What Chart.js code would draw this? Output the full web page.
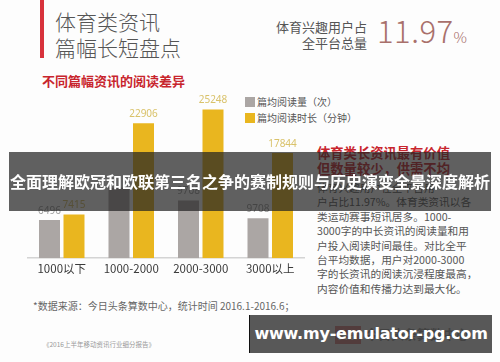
<!DOCTYPE html>
<html>
<head>
<meta charset="utf-8">
<script src="https://cdn.jsdelivr.net/npm/chart.js@4.4.1/dist/chart.umd.min.js"></script>
<style>
  html, body { margin:0; padding:0; }
  body { width:500px; height:362px; position:relative; overflow:hidden; background:#fdfdfd;
         font-family:"Noto Sans CJK SC","Noto Sans",sans-serif; }
  .abs { position:absolute; white-space:nowrap; }
  #redbar { left:40px; top:0; width:4px; height:58px; background:#d8323c; }
  .title { left:55px; font-size:21px; color:#555; font-weight:300; line-height:21px; }
  .sub { left:42px; top:74px; font-size:13px; color:#c8252d; font-weight:bold; line-height:14px; }
  .rt { right:133px; font-size:13px; color:#555; line-height:14px; text-align:right; }
  .big { left:377px; top:13px; font-size:31px; color:#a9706b; font-weight:200; font-family:"Noto Sans CJK SC", "Open Sans", sans-serif; line-height:34px; letter-spacing:0.5px; }
  .big span { font-size:15px; }
  .leg { left:245px; font-size:10px; color:#555; line-height:12px; }
  .leg i { display:inline-block; width:10px; height:10px; vertical-align:-1px; margin-right:2px; }
  .rh { left:317px; font-size:13.3px; color:#c8252d; font-weight:bold; line-height:16px; }
  .body { left:317px; top:181px; font-size:10.7px; color:#555; line-height:14.4px; }
  .src { left:33px; top:300px; font-size:10px; color:#666; line-height:12px; }
  .rep { left:43px; top:340px; font-size:6.5px; color:#999; line-height:8px; }
  .logo { left:335px; top:326px; font-size:13px; color:#666; font-weight:bold; line-height:16px; }
  .logo b { display:inline-block; background:#d23a3a; color:#fff; font-size:10px; padding:1px 3px; margin-right:4px; }
  #chartwrap { position:absolute; left:27px; top:95px; width:278px; height:185px; }
  #banner { left:9px; top:152px; width:482px; height:59px; background:rgba(35,35,35,0.72);
            color:#fff; font-weight:bold; font-size:16px; line-height:59px; text-align:center; }
  #wm { left:249px; top:315px; width:242px; height:38px; background:rgba(60,60,60,0.86);
        border-left:1.5px solid #111; color:#fff; font-weight:bold; font-size:16px; line-height:38px;
        text-align:center; font-family:"DejaVu Sans","Liberation Sans",sans-serif; letter-spacing:-0.2px; }
</style>
</head>
<body>
<div id="redbar" class="abs"></div>
<div class="abs title" style="top:11px">体育类资讯</div>
<div class="abs title" style="top:37px">篇幅长短盘点</div>
<div class="abs sub">不同篇幅资讯的阅读差异</div>
<div class="abs rt" style="top:20px">体育兴趣用户占</div>
<div class="abs rt" style="top:36px">全平台总量</div>
<div class="abs big">11.97<span>%</span></div>
<div class="abs leg" style="top:96px"><i style="background:#aba6a4"></i>篇均阅读量（次）</div>
<div class="abs leg" style="top:112px"><i style="background:#e9b61f"></i>篇均阅读时长（分钟）</div>
<div class="abs rh" style="top:145px">体育类长资讯最有价值</div>
<div class="abs rh" style="top:161px">但数量较少，供需不均</div>
<div class="abs body">体育兴趣用户在全平台用<br>户占比11.97%。体育类资讯以各<br>类运动赛事短讯居多。1000-<br>3000字的中长资讯的阅读量和用<br>户投入阅读时间最佳。对比全平<br>台平均数据，用户对2000-3000<br>字的长资讯的阅读沉浸程度最高，<br>内容价值和传播力达到最大化。</div>
<div class="abs src">*数据来源：今日头条算数中心，统计时间 2016.1-2016.6；</div>
<div class="abs rep">《2016上半年移动资讯行业细分报告》</div>
<div class="abs logo"><b>头条</b>今日头条算数中心</div>
<div id="chartwrap"><canvas id="c"></canvas></div>
<div id="banner" class="abs">全面理解欧冠和欧联第三名之争的赛制规则与历史演变全景深度解析</div>
<div id="wm" class="abs">www.my-emulator-pg.com</div>
<script>
const categories = ['1000以下', '1000-2000', '2000-3000', '3000以上'];
const readCount = [6496, 11970, 9780, 6770];
const readTime = [7415, 22906, 25248, 17844];
const readCountLabels = ['6496', '', '9708', '9708'];
const readTimeLabels = ['7415', '22906', '25248', '17844'];
const seriesNames = ['篇均阅读量（次）', '篇均阅读时长（分钟）'];

const valueLabels = {
  id: 'valueLabels',
  afterDatasetsDraw(chart) {
    const ctx = chart.ctx;
    const sets = [[readCountLabels, '#9c9c9c'], [readTimeLabels, '#d9c26a']];
    ctx.save();
    ctx.font = '10px "Noto Sans", "DejaVu Sans", sans-serif';
    ctx.textAlign = 'center';
    ctx.textBaseline = 'middle';
    sets.forEach(([labels, color], di) => {
      const meta = chart.getDatasetMeta(di);
      meta.data.forEach((bar, i) => {
        if (!labels[i]) return;
        ctx.fillStyle = color;
        ctx.fillText(labels[i], bar.x, bar.y - 9);
      });
    });
    ctx.restore();
  }
};

new Chart(document.getElementById('c'), {
  type: 'bar',
  data: {
    labels: categories,
    datasets: [
      { label: seriesNames[0], data: readCount, backgroundColor: '#aba6a4', categoryPercentage: 0.705, barPercentage: 0.857 },
      { label: seriesNames[1], data: readTime, backgroundColor: '#e9b61f', categoryPercentage: 0.705, barPercentage: 0.857 }
    ]
  },
  options: {
    responsive: true,
    maintainAspectRatio: false,
    animation: false,
    devicePixelRatio: 1,
    layout: { padding: 0 },
    plugins: { legend: { display: false }, tooltip: { enabled: false } },
    scales: {
      x: {
        grid: { display: false, drawTicks: false },
        border: { display: true, color: '#d4d4d4', width: 1.5 },
        ticks: { color: '#3a3a3a', padding: 4, font: { size: 11.5, family: '"Noto Sans CJK SC", sans-serif' }, maxRotation: 0 }
      },
      y: { display: false, min: 0, max: 27700 }
    }
  },
  plugins: [valueLabels]
});
</script>
</body>
</html>
